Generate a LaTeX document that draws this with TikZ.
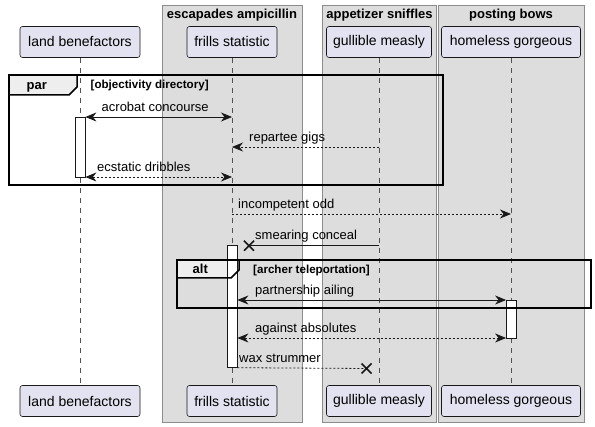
\documentclass[tikz,border=0pt]{standalone}
\usepackage{fontspec}
\setmainfont{Liberation Sans}
\usetikzlibrary{arrows.meta,positioning,calc}
\definecolor{partfill}{HTML}{E2E2F0}
\definecolor{inkdark}{HTML}{181818}
\definecolor{boxfill}{HTML}{DDDDDD}
\definecolor{boxline}{HTML}{8C8C8C}
\definecolor{tabfill}{HTML}{EEEEEE}

\begin{document}
\begin{tikzpicture}[x=1pt,y=-1pt,font=\fontsize{13}{15}\selectfont,
    part/.style={draw=inkdark,fill=partfill,rounded corners=2.5pt,
                 minimum height=31pt,inner sep=0pt,line width=0.6pt,
                 font=\fontsize{14}{16}\selectfont},
    grp/.style={draw=boxline,fill=boxfill,line width=0.8pt},
    grptitle/.style={inner sep=0pt,font=\bfseries\fontsize{13}{15}\selectfont},
    lifeline/.style={draw=inkdark!75,dash pattern=on 5pt off 5pt,line width=0.5pt},
    act/.style={draw=inkdark,fill=white,minimum width=10pt,inner sep=0pt,line width=0.8pt},
    frame/.style={draw=black,line width=1.5pt},
    msg/.style={draw=inkdark,line width=0.8pt,
                >={Stealth[length=11pt,width=9pt,inset=3.5pt]}},
    reply/.style={msg,dash pattern=on 2pt off 2pt},
    lbl/.style={anchor=base west,inner sep=0pt},
    cond/.style={anchor=base west,inner sep=0pt,font=\bfseries\fontsize{11.6}{13}\selectfont},
    cross/.style={draw=inkdark,line width=1.6pt}]
        \fill[white] (0,0) rectangle (595,427);
        \useasboundingbox (0,0) rectangle (595,427);
        % boxes round the participants
        \draw[grp] (162,5.5) rectangle (302,422);
        \draw[grp] (322,5.5) rectangle (436.5,422);
        \draw[grp] (438.5,5.5) rectangle (584,422);
        \node[grptitle] (boxA) at (232,15) {escapades ampicillin};
        \node[grptitle] (boxB) at (379.5,15) {appetizer sniffles};
        \node[grptitle] (boxC) at (511,15) {posting bows};
        % participants, top and bottom
        \node[part,minimum width=120pt] (lb) at (80,42) {land benefactors};
        \node[part,minimum width=90pt]  (fs) at (232,42) {frills statistic};
        \node[part,minimum width=105pt] (gm) at (379,42) {gullible measly};
        \node[part,minimum width=139pt] (hg) at (511,42) {homeless gorgeous};
        \node[part,minimum width=120pt] (lb2) at (80,401) {land benefactors};
        \node[part,minimum width=90pt]  (fs2) at (232,401) {frills statistic};
        \node[part,minimum width=105pt] (gm2) at (379,401) {gullible measly};
        \node[part,minimum width=139pt] (hg2) at (511,401) {homeless gorgeous};
        \draw[lifeline] (lb) -- (lb2);
        \draw[lifeline] (fs) -- (fs2);
        \draw[lifeline] (gm) -- (gm2);
        \draw[lifeline] (hg) -- (hg2);
        % tab fills
        \fill[tabfill] (9,75) -- (77,75) -- (77,87) -- (69,95) -- (9,95) -- cycle;
        \fill[tabfill] (177,260) -- (239,260) -- (239,270) -- (231,278) -- (177,278) -- cycle;
        % activations
        \node[act,minimum height=60pt]  (actA) at (80,147) {};
        \node[act,minimum height=122pt] (actB) at (232,306.7) {};
        \node[act,minimum height=38pt]  (actC) at (511.5,319) {};
        % par frame
        \draw[frame] (9,75) rectangle (443,185);
        \draw[frame] (77,75) -- (77,87) -- (69,95) -- (9,95);
        \node[lbl,font=\bfseries\fontsize{13}{15}\selectfont] (parL) at (26.5,90) {par};
        \node[cond] (parC) at (90.5,88.5) {[objectivity directory]};
        % alt frame
        \draw[frame] (177,260) rectangle (591,308);
        \draw[frame] (239,260) -- (239,270) -- (231,278) -- (177,278);
        \node[lbl,font=\bfseries\fontsize{13}{15}\selectfont] (altL) at (192.5,274) {alt};
        \node[cond] (altC) at (253,273.5) {[archer teleportation]};
        % messages
        \draw[msg,<->] (actA.east |- 0,117) -- (fs |- 0,117);
        \node[lbl] (m1) at (101.5,112) {acrobat concourse};
        \draw[reply,->] (gm |- 0,147) -- (fs |- 0,147);
        \node[lbl] (m2) at (249,141.5) {repartee gigs};
        \draw[reply,<->] (actA.east |- 0,177) -- (fs |- 0,177);
        \node[lbl] (m3) at (97,172) {ecstatic dribbles};
        \draw[reply,->] (fs |- 0,214) -- (hg |- 0,214);
        \node[lbl] (m4) at (238,209) {incompetent odd};
        \coordinate (xA) at (249,245.7);
        \draw[msg] (gm |- xA) -- (xA);
        \draw[cross] ($(xA)+(-5,-5)$) -- ($(xA)+(5,5)$) ($(xA)+(-5,5)$) -- ($(xA)+(5,-5)$);
        \node[lbl] (m5) at (255,240) {smearing conceal};
        \draw[msg,<->] (actB.east |- 0,300) -- (actC.west |- 0,300);
        \node[lbl] (m6) at (255,295) {partnership ailing};
        \draw[reply,<->] (actB.east |- 0,338) -- (actC.west |- 0,338);
        \node[lbl] (m7) at (255,332.5) {against absolutes};
        \coordinate (xB) at (366.5,368.5);
        \draw[reply] (actB.east |- 0,367.7) -- (xB);
        \draw[cross] ($(xB)+(-5,-5)$) -- ($(xB)+(5,5)$) ($(xB)+(-5,5)$) -- ($(xB)+(5,-5)$);
        \node[lbl] (m8) at (239,363) {wax strummer};
      \end{tikzpicture}
\end{document}
